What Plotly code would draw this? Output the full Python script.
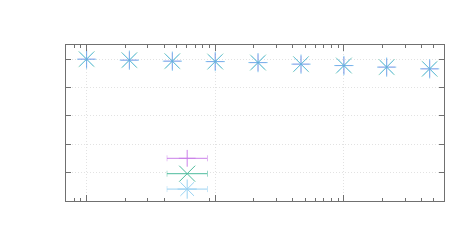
import plotly.graph_objects as go

# data: three overlapping series on a log x axis
x_vals = [1, 2.15, 4.64, 10, 21.5, 46.4, 100, 215, 464]
y_plus = [1.0, 0.993, 0.986, 0.983, 0.976, 0.965, 0.955, 0.944, 0.932]
y_cross = [1.0, 0.993, 0.986, 0.983, 0.976, 0.965, 0.955, 0.944, 0.932]
y_star = [1.0, 0.993, 0.986, 0.983, 0.976, 0.965, 0.955, 0.944, 0.932]

# name, values, symbol, size, colour, opacity (plot), opacity (key)
series = [
    ("plus", y_plus, "cross-thin-open", 12, "#9400d3", 0.35, 0.5),
    ("cross", y_cross, "x-thin-open", 16, "#009e73", 0.45, 0.7),
    ("star", y_star, "asterisk-open", 16, "#56b4e9", 0.75, 0.6),
]

GRID = "#e2e2e2"
FRAME = "#707070"

fig = go.Figure()

for name, ys, sym, size, color, alpha, _ in series:
    fig.add_trace(
        go.Scatter(
            x=x_vals,
            y=ys,
            mode="markers",
            name=name,
            opacity=alpha,
            marker=dict(symbol=sym, size=size, color=color,
                        line=dict(color=color, width=1)),
            showlegend=False,
        )
    )

# key samples (gnuplot style, marker with x error bar) on a hidden axis pair
for i, (name, ys, sym, size, color, _, alpha) in enumerate(series):
    fig.add_trace(
        go.Scatter(
            x=[0],
            y=[i],
            mode="markers",
            opacity=alpha,
            marker=dict(symbol=sym, size=size, color=color,
                        line=dict(color=color, width=1)),
            error_x=dict(type="data", array=[1], color=color,
                         thickness=1, width=3),
            xaxis="x2",
            yaxis="y2",
            showlegend=False,
        )
    )

fig.update_layout(
    width=472,
    height=250,
    margin=dict(l=58, r=36, t=37, b=57),
    paper_bgcolor="white",
    plot_bgcolor="white",
    xaxis=dict(
        type="log",
        range=[-0.16, 2.778],
        dtick=1,
        showticklabels=False,
        ticks="inside",
        ticklen=6,
        tickcolor=FRAME,
        showline=True,
        linecolor=FRAME,
        linewidth=1,
        mirror="ticks",
        showgrid=True,
        gridcolor=GRID,
        griddash="1px,2px",
        zeroline=False,
        minor=dict(ticks="inside", ticklen=3, tickcolor=FRAME,
                   dtick="D1", showgrid=False),
    ),
    yaxis=dict(
        range=[0, 1.1],
        dtick=0.2,
        showticklabels=False,
        ticks="inside",
        ticklen=5,
        tickcolor=FRAME,
        showline=True,
        linecolor=FRAME,
        linewidth=1,
        mirror="ticks",
        showgrid=True,
        gridcolor=GRID,
        griddash="1px,2px",
        zeroline=False,
    ),
    xaxis2=dict(
        domain=[0.2665, 0.3747],
        range=[-1, 1],
        anchor="y2",
        visible=False,
    ),
    yaxis2=dict(
        domain=[0.0, 0.35],
        range=[2.774, -0.774],
        anchor="x2",
        visible=False,
    ),
    shapes=[
        dict(
            type="rect",
            xref="paper",
            yref="paper",
            x0=0,
            x1=0.393,
            y0=0,
            y1=0.325,
            fillcolor="white",
            line=dict(width=0),
            layer="between",
        )
    ],
)

fig.write_html("out.html")
